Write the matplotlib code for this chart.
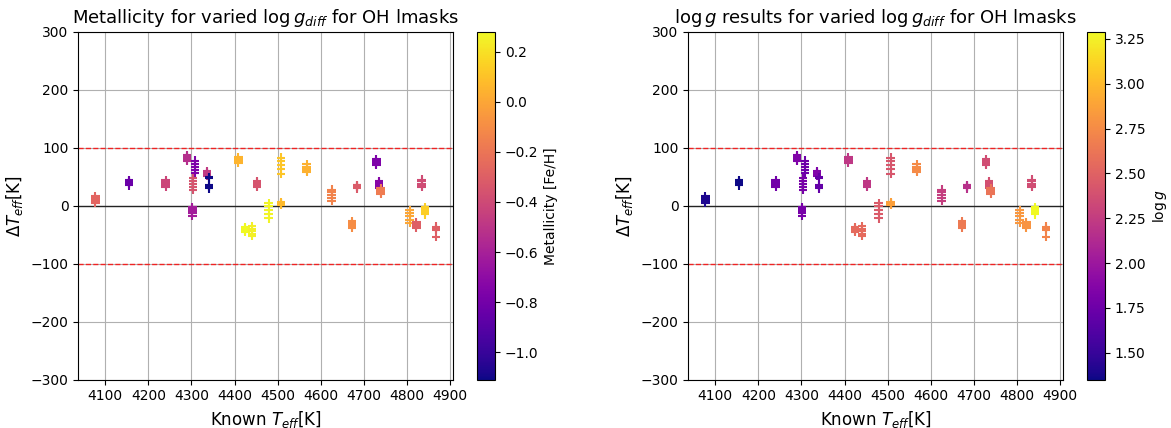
import numpy as np
import matplotlib
matplotlib.use("Agg")
import matplotlib.pyplot as plt

# known effective temperature of each star [K]
teff_known = [4077, 4155, 4240, 4290, 4308, 4303, 4302, 4336, 4340, 4409,
              4452, 4425, 4440, 4479, 4507, 4507, 4567, 4625, 4673, 4684,
              4729, 4735, 4739, 4806, 4822, 4834, 4842, 4868]

# Delta Teff for the five logg_diff variations of each star
delta_teff = [
    [5, 8, 10, 13, 16],
    [35, 38, 40, 42, 44],
    [33, 36, 38, 41, 44],
    [78, 80, 83, 85, 87],
    [57, 62, 67, 72, 78],
    [28, 33, 38, 43, 48],
    [-17, -13, -9, -5, -2],
    [52, 54, 56, 58, 60],
    [30, 32, 35, 47, 50],
    [74, 77, 79, 81, 84],
    [33, 35, 37, 40, 42],
    [-45, -43, -41, -39, -37],
    [-52, -48, -44, -40, -35],
    [-22, -15, -8, 0, 5],
    [55, 63, 70, 77, 83],
    [1, 3, 4, 5, 6],
    [58, 60, 63, 67, 72],
    [8, 14, 19, 24, 28],
    [-38, -35, -32, -30, -27],
    [30, 32, 33, 35, 36],
    [70, 72, 75, 77, 80],
    [30, 33, 36, 40, 42],
    [20, 22, 25, 27, 30],
    [-30, -25, -18, -12, -8],
    [-38, -35, -33, -30, -28],
    [32, 35, 38, 42, 45],
    [-15, -12, -9, -6, -3],
    [-54, -42, -40, -38, -36],
]

metallicity = [-0.27, -0.83, -0.42, -0.53, -0.76, -0.35, -0.62, -0.48, -1.11, 0.05,
               -0.35, 0.28, 0.25, 0.26, 0.11, 0.07, 0.04, -0.14, -0.10, -0.32,
               -0.76, -0.73, -0.17, 0.00, -0.30, -0.39, 0.14, -0.30]

logg = [1.40, 1.35, 1.78, 1.85, 1.75, 1.80, 1.80, 1.85, 1.70, 2.22,
        2.22, 2.55, 2.55, 2.45, 2.42, 2.86, 2.75, 2.26, 2.65, 2.17,
        2.36, 2.38, 2.61, 2.82, 2.80, 2.36, 3.29, 2.71]

n_var = len(delta_teff[0])
x = np.repeat(teff_known, n_var)
y = np.array(delta_teff).ravel()
c_feh = np.repeat(metallicity, n_var)
c_logg = np.repeat(logg, n_var)

fig = plt.figure(figsize=(11.71, 4.28), dpi=100)

panels = [
    (0.0669, 0.4076, c_feh, "Metallicity for varied $\\log g_{diff}$ for OH lmasks", "Metallicity [Fe/H]"),
    (0.5878, 0.9285, c_logg, "$\\log g$ results for varied $\\log g_{diff}$ for OH lmasks", "$\\log g$"),
]

for ax_left, cb_left, cvals, title, cb_label in panels:
    ax = fig.add_axes([ax_left, 0.1128, 0.3202, 0.813])
    cax = fig.add_axes([cb_left, 0.1128, 0.0151, 0.813])

    ax.grid(True, zorder=0)
    ax.axhline(100, color="red", linestyle="--", linewidth=1, alpha=0.8)
    ax.axhline(-100, color="red", linestyle="--", linewidth=1, alpha=0.8)
    ax.axhline(0, color="black", linewidth=1, alpha=0.8)

    sc = ax.scatter(x, y, c=cvals, cmap="plasma", marker="+", zorder=3)
    ax.set_ylim(-300, 300)
    ax.set_xticks(np.arange(4100, 4901, 100))

    ax.set_title(title, fontsize=13)
    ax.set_xlabel("Known $T_{eff}$[K]", fontsize=12)
    ax.set_ylabel("$\\Delta T_{eff}$[K]", fontsize=12)

    cb = fig.colorbar(sc, cax=cax)
    cb.set_label(cb_label)

fig.savefig("out.png")
plt.close(fig)
